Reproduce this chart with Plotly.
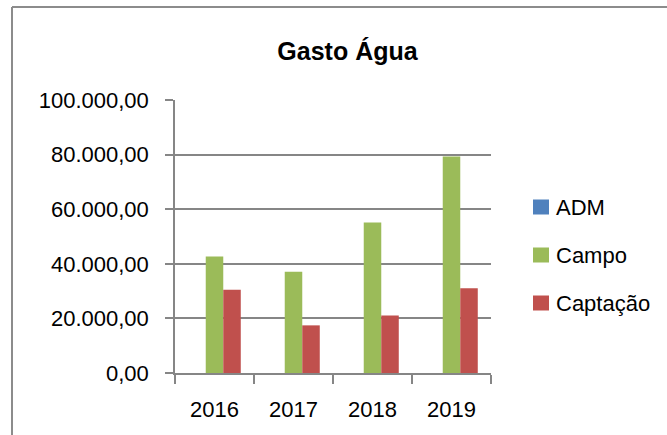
import plotly.graph_objects as go

years = ["2016", "2017", "2018", "2019"]
series_names = ["ADM", "Campo", "Captação"]
adm = [0, 0, 0, 0]
campo = [42700, 37100, 55100, 79300]
captacao = [30500, 17450, 21100, 31000]
series_values = [adm, campo, captacao]
colors = ["#4F81BD", "#9BBB59", "#C0504D"]
y_ticks = [0, 20000, 40000, 60000, 80000, 100000]

W, H = 667, 435
L, R, T, B = 175, 491, 100, 373  # plot area in pixels


def px_x(px):
    return (px - L) / (R - L)


def px_y(py):
    return (B - py) / (B - T)


FONT = "Liberation Sans, Arial, sans-serif"

fig = go.Figure()
for name, vals, col in zip(series_names, series_values, colors):
    fig.add_trace(go.Bar(name=name, x=years, y=vals, marker_color=col,
                         marker_line_width=0, showlegend=False))

shapes = []
annotations = []
# chart border (top and left edges visible)
shapes.append(dict(type="line", xref="paper", yref="paper",
                   x0=px_x(12), x1=px_x(700), y0=px_y(7), y1=px_y(7),
                   line=dict(color="#8C8C8C", width=2)))
shapes.append(dict(type="line", xref="paper", yref="paper",
                   x0=px_x(12), x1=px_x(12), y0=px_y(7), y1=px_y(460),
                   line=dict(color="#8C8C8C", width=2)))

# custom legend
leg_y = [207, 255, 303]
for name, col, cy in zip(series_names, colors, leg_y):
    shapes.append(dict(type="rect", xref="paper", yref="paper",
                       x0=px_x(533), x1=px_x(549), y0=px_y(cy + 7.5), y1=px_y(cy - 7.5),
                       fillcolor=col, line=dict(width=0)))
    annotations.append(dict(text=name, xref="paper", yref="paper",
                            x=px_x(554), y=px_y(cy), xanchor="left", yanchor="middle",
                            showarrow=False, font=dict(family=FONT, size=22, color="#000000")))

fig.update_layout(
    width=W, height=H,
    margin=dict(l=L, r=W - R, t=T, b=H - B),
    paper_bgcolor="white", plot_bgcolor="white",
    separators=",.",
    barmode="group", bargap=0.335, bargroupgap=0,
    title=dict(text="<b>Gasto Água</b>", x=347.5 / W, xref="container", xanchor="center",
               y=1 - 51 / H, yref="container", yanchor="middle",
               font=dict(family=FONT, size=25, color="#000000")),
    font=dict(family=FONT, size=22, color="#000000"),
    shapes=shapes, annotations=annotations,
    showlegend=False,
)
fig.update_xaxes(type="category", showline=True, linecolor="#868686", linewidth=1.5,
                 ticks="outside", tickson="boundaries", ticklen=9, tickcolor="#868686",
                 tickwidth=1.5, showgrid=False, tickfont=dict(family=FONT, size=22),
                 ticklabelstandoff=16)
fig.update_yaxes(range=[0, 100000], tickvals=y_ticks, tickformat=",.2f",
                 showline=True, linecolor="#868686", linewidth=1.5,
                 ticks="outside", ticklen=8, tickcolor="#868686", tickwidth=1.5,
                 showgrid=True, gridcolor="#868686", gridwidth=1.5,
                 zeroline=False, tickfont=dict(family=FONT, size=22),
                 ticklabelstandoff=12)

fig.write_html("out.html", config={"displayModeBar": False},
               post_script="document.body.style.margin='0';")
